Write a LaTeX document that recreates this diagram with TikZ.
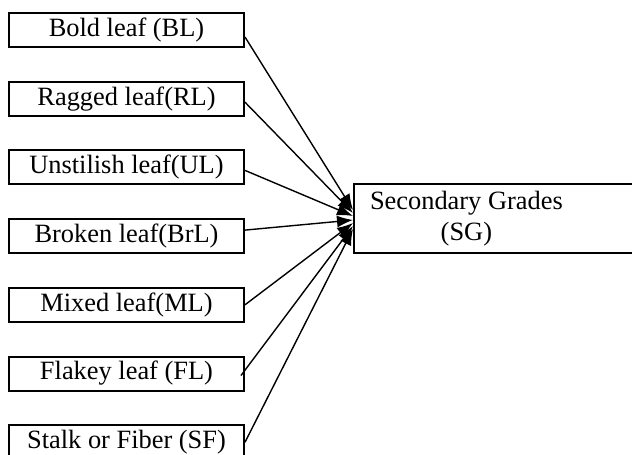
\documentclass[tikz,border=0pt]{standalone}
\usepackage{fontspec}
\setmainfont{Liberation Serif}
\usetikzlibrary{arrows.meta}
\begin{document}
\begin{tikzpicture}[node distance=34.35pt,
	leaf/.style={shape=rectangle,draw=black,line width=1pt,minimum width=117.5pt,minimum height=17pt,inner sep=1pt,font=\fontsize{13.2pt}{15.5pt}\selectfont},
	grade/.style={shape=rectangle,draw=black,line width=1pt,minimum height=34.5pt,inner xsep=8pt,inner ysep=1pt,anchor=west,font=\fontsize{13.2pt}{15.5pt}\selectfont},
	link/.style={line width=0.7pt,-{Latex[length=8pt,width=6pt]}}]
	\useasboundingbox (0,0) rectangle (316pt,-227.5pt);
	\node[leaf] (1) at (63.25pt,-15pt) {Bold leaf (BL)};
	\node[leaf] (2) [below of=1] {Ragged leaf(RL)};
	\node[leaf] (3) [below of=2] {Unstilish leaf(UL)};
	\node[leaf] (4) [below of=3] {Broken leaf(BrL)};
	\node[leaf] (5) [below of=4] {Mixed leaf(ML)};
	\node[leaf] (6) [below of=5] {Flakey leaf (FL)};
	\node[leaf] (7) [below of=6] {Stalk or Fiber (SF)};
	\node[grade] (8) at (176.5pt,-109.25pt) {\begin{tabular}{@{}c@{}}Secondary Grades\\(SG)\end{tabular}\makebox[40pt]{}};

	\draw[link] ([yshift=-3.5pt]1.east) -- ([yshift=4.25pt]8.west);
	\draw[link] ([yshift=-1.75pt]2.east) -- ([yshift=2.75pt]8.west);
	\draw[link] ([yshift=-1.5pt]3.east) -- ([yshift=1.25pt]8.west);
	\draw[link] ([yshift=3pt]4.east) -- ([yshift=-0.75pt]8.west);
	\draw[link] (5.east) -- ([yshift=-2.25pt]8.west);
	\draw[link] ([xshift=-2pt,yshift=-1pt]6.east) -- ([yshift=-3.75pt]8.west);
	\draw[link] (7.east) -- ([yshift=-5.25pt]8.west);
\end{tikzpicture}
\end{document}
